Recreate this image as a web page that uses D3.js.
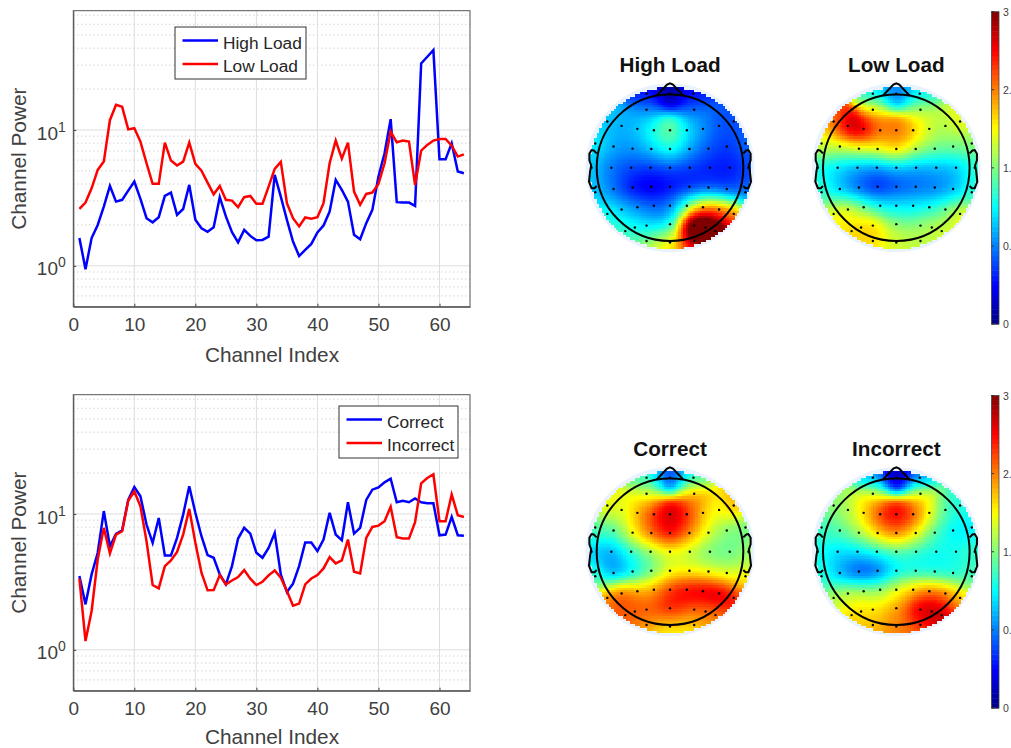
<!DOCTYPE html>
<html lang="en">
<head>
<meta charset="UTF-8" />
<title>Channel power and scalp maps</title>
<script src="https://d3js.org/d3.v7.min.js"></script>
<style>
  html, body { margin: 0; padding: 0; background: white; overflow: hidden; }
  svg { display: block; font-family: "Liberation Sans", Arial, sans-serif; }
  .axis text { font-size: 19px; fill: #404040; }
  .axis path, .axis line { stroke: #404040; }
  .axis-label { font-size: 20.8px; fill: #404040; text-anchor: middle; }
  .legend-text { font-size: 17.3px; fill: #262626; }
  .topo-title { font-size: 20.7px; font-weight: bold; fill: #111; text-anchor: middle; }
  .bar-tick { font-size: 10.5px; fill: #404040; }
</style>
</head>
<body>
<svg id="chart" width="1011" height="748"></svg>
<script>
// line chart data, one value per channel (1..64)
const highLoad = [1.60,0.945,1.60,2.00,2.73,3.87,2.97,3.06,3.58,4.17,3.11,2.24,2.09,2.28,3.27,3.46,2.37,2.62,3.94,2.18,1.89,1.78,1.92,3.20,2.31,1.77,1.49,1.84,1.66,1.54,1.55,1.64,4.67,3.23,2.18,1.51,1.18,1.31,1.45,1.76,1.98,2.51,4.29,3.62,2.97,1.69,1.57,2.06,2.58,4.54,6.74,12.0,2.94,2.92,2.92,2.76,30.9,34.6,38.7,6.09,6.09,7.98,4.94,4.80];
const lowLoad = [2.62,2.92,3.72,5.08,5.85,11.8,15.3,14.8,10.1,10.3,8.21,5.69,4.01,4.01,8.07,5.95,5.47,5.85,8.07,5.62,5.02,4.10,3.36,3.87,3.06,3.02,2.70,3.20,3.27,2.86,2.86,3.83,5.17,5.82,2.89,2.24,1.95,2.27,2.22,2.28,2.89,5.69,8.35,6.15,8.07,3.52,2.81,3.38,3.46,4.01,5.69,9.72,8.11,8.35,8.21,3.94,7.05,7.76,8.35,8.59,8.59,7.67,6.37,6.62];
const correct = [3.49,2.16,3.59,5.18,10.5,5.79,7.13,7.59,12.7,15.8,13.5,8.35,6.13,9.35,4.95,4.95,6.67,9.89,16.0,10.2,6.86,4.98,4.76,3.59,3.03,4.13,6.59,7.90,7.17,5.18,4.76,5.63,7.25,3.59,2.66,3.07,4.13,6.16,6.16,5.32,6.48,10.2,7.05,6.41,12.2,7.17,7.90,12.7,15.1,15.7,17.1,18.2,12.2,12.5,12.2,13.0,12.2,12.0,12.0,6.97,7.05,9.51,6.97,6.90];
const incorrect = [3.34,1.16,1.93,4.62,7.90,5.12,7.05,7.46,12.5,14.7,11.4,6.30,3.00,2.83,4.13,4.55,5.26,7.05,10.9,6.13,3.69,2.74,2.75,3.55,3.03,3.24,3.43,3.86,3.34,3.00,3.17,3.53,3.84,3.39,2.71,2.11,2.19,3.03,3.35,3.55,3.97,4.81,4.32,4.55,6.48,3.75,3.65,6.67,8.03,8.21,8.84,11.3,6.74,6.59,6.59,8.69,16.8,18.4,19.6,8.84,8.84,13.9,9.78,9.51];

const xTicks = [0,10,20,30,40,50,60];
const yMajor = [1,10];
const yMinor = [0.5,0.6,0.7,0.8,0.9,2,3,4,5,6,7,8,9,20,30,40,50,60,70];

// electrode locations in head radii, row by row from the nose down
const elecX = [-.32,0,.32, -.32,.33,
  -.855,-.66,-.445,-.22,0,.23,.45,.67,.87,
  -1.02,-.77,-.51,-.255,0,.265,.525,.775,1.03,
  -1.07,-.8,-.53,-.265,0,.27,.545,.815,1.07,
  -1.02,-.77,-.51,-.255,0,.265,.525,.775,1.03,
  -.855,-.66,-.445,-.22,0,.23,.45,.67,.87,
  -.61,-.48,-.32,0,.33,.485,.62,
  -.32,0,.33];
const elecY = [1.01,1.01,1.01, .79,.79,
  .63,.57,.53,.51,.51,.51,.53,.57,.63,
  .33,.29,.26,.255,.255,.255,.26,.29,.33,
  0,0,0,0,0,0,0,0,0,
  -.335,-.29,-.27,-.26,-.26,-.26,-.27,-.29,-.335,
  -.63,-.57,-.54,-.52,-.52,-.52,-.54,-.57,-.63,
  -.865,-.815,-.79,-.77,-.79,-.815,-.865,
  -1,-1.02,-1];

// values at the electrodes, same order
const highLoadTopo = [.35,.05,.35, .85,.75,
  1.0,.85,.95,1.25,1.6,1.1,.8,.6,.6,
  1.15,.85,.8,.95,1.3,.85,.6,.5,.7,
  1.0,.7,.55,.5,.55,.5,.42,.4,.6,
  1.0,.7,.35,.2,.35,.4,.55,.5,.7,
  1.3,.95,.8,.65,.7,1.4,2.2,2.4,2.3,
  1.45,1.1,.95,1.1,3.9,3.9,3.2,
  1.8,2.0,2.4];
const lowLoadTopo = [1.0,.7,1.0, 2.0,1.75,
  2.1,3.0,2.95,2.2,2.4,2.15,1.7,1.6,1.9,
  1.8,1.65,1.7,1.8,2.1,1.6,1.45,1.45,1.55,
  1.2,1.0,.8,.7,.85,.8,.85,.9,1.3,
  1.35,.9,.6,.35,.55,.65,.7,.85,1.3,
  1.85,1.95,1.4,1.15,1.1,1.1,1.15,1.4,2.0,
  1.95,2.05,2.15,1.6,1.55,1.7,1.8,
  1.9,1.75,1.7];
const correctTopo = [1.2,.5,1.1, 1.85,2.3,
  1.9,1.7,2.1,2.55,2.9,2.6,2.0,1.75,2.2,
  1.4,1.3,1.9,2.35,2.8,2.25,1.75,1.45,1.45,
  1.0,.8,1.2,1.5,1.75,1.6,1.4,1.4,1.6,
  1.4,.65,1.0,1.35,1.8,1.85,1.8,1.7,1.9,
  2.2,2.6,2.1,2.2,2.6,2.75,2.85,2.95,2.5,
  2.35,2.4,2.45,2.6,2.35,2.3,2.2,
  2.0,1.85,1.85];
const incorrectTopo = [.7,.05,.6, 2.0,2.05,
  1.5,1.65,1.95,2.55,2.8,2.5,1.85,1.3,1.2,
  1.3,1.35,1.6,2.0,2.35,1.85,1.3,1.05,1.1,
  1.2,1.0,1.0,1.15,1.3,1.2,1.15,1.2,1.3,
  1.3,.85,.45,.5,1.05,1.1,1.1,1.15,1.35,
  1.65,1.75,1.65,1.6,1.9,2.15,2.35,2.35,2.0,
  2.0,2.0,1.95,2.2,2.85,2.95,2.8,
  2.1,2.25,2.25];

const barTicks = [0,0.75,1.5,2.25,3];
const barTickLabels = ["0","0.","1.","2.","3"];

const svg = d3.select("#chart");

function logTicks(sel) {
  sel.selectAll(".tick text").each(function(d) {
    const t = d3.select(this).attr("y", 3).text(null);
    t.append("tspan").text("10");
    t.append("tspan").attr("dy", -8).style("font-size", "14px").text(Math.round(Math.log10(d)));
  });
}

function linePanel(top, blue, red, names, legendX, legendY, labelY) {
  const left = 73.3, right = 470, h = 296;
  const x = d3.scaleLinear([0, 65], [left, right]);
  const y = d3.scaleLog([0.5, 75.5], [top + h, top]);
  const g = svg.append("g");

  // grid first
  g.selectAll(".minor").data(yMinor).join("line")
    .attr("x1", left).attr("x2", right)
    .attr("y1", d => y(d)).attr("y2", d => y(d))
    .attr("stroke", "#bdbdbd").attr("stroke-dasharray", "1 3");
  g.selectAll(".major-y").data(yMajor).join("line")
    .attr("x1", left).attr("x2", right)
    .attr("y1", d => y(d)).attr("y2", d => y(d))
    .attr("stroke", "#dedede");
  g.selectAll(".major-x").data(xTicks.slice(1)).join("line")
    .attr("x1", d => x(d)).attr("x2", d => x(d))
    .attr("y1", top).attr("y2", top + h)
    .attr("stroke", "#dedede");

  const line = d3.line().x((d, i) => x(i + 1)).y(d => y(d));
  [[blue, "#0000ff"], [red, "#ff0000"]].forEach(([vals, col]) => {
    g.append("path").datum(vals).attr("d", line)
      .attr("fill", "none").attr("stroke", col).attr("stroke-width", 2.5);
  });

  g.append("g").attr("class", "axis")
    .attr("transform", `translate(0,${top + h})`)
    .call(d3.axisBottom(x).tickValues(xTicks).tickSize(-3).tickPadding(11).tickSizeOuter(0));
  g.append("g").attr("class", "axis")
    .attr("transform", `translate(${left},0)`)
    .call(d3.axisLeft(y).tickValues(yMajor).tickSize(-3).tickPadding(7.5).tickSizeOuter(0))
    .call(logTicks);
  g.append("rect").attr("x", left).attr("y", top).attr("width", right - left).attr("height", h)
    .attr("fill", "none").attr("stroke", "#555");

  g.append("text").attr("class", "axis-label").attr("x", 272).attr("y", labelY).text("Channel Index");
  g.append("text").attr("class", "axis-label")
    .attr("transform", `translate(26,${top + h / 2}) rotate(-90)`).text("Channel Power");

  // legend
  const lw = names[0] === "Correct" ? 119 : 131;
  const leg = g.append("g").attr("transform", `translate(${legendX},${legendY})`);
  leg.append("rect").attr("width", lw).attr("height", 52).attr("fill", "white").attr("stroke", "#333");
  names.forEach((n, i) => {
    leg.append("line").attr("x1", 7.5).attr("x2", 43).attr("y1", 13.5 + i * 23.5).attr("y2", 13.5 + i * 23.5)
      .attr("stroke", i ? "#ff0000" : "#0000ff").attr("stroke-width", 2.5);
    leg.append("text").attr("class", "legend-text").attr("x", 48).attr("y", 21.5 + i * 23.5).text(n);
  });
}

linePanel(10.7, highLoad, lowLoad, ["High Load", "Low Load"], 175, 27, 361.7);
linePanel(394.7, correct, incorrect, ["Correct", "Incorrect"], 339, 406, 743.5);

// jet colour map over the 0..3 range of the colour bars
const jet = d3.scaleLinear()
  .domain([0, .375, 1.125, 1.875, 2.625, 3])
  .range(["#000080", "#0000ff", "#00ffff", "#ffff00", "#ff0000", "#800000"])
  .clamp(true);

const gridN = 67, discR = 1.098, headPx = 73.3, kernel = 0.15;
const gridSteps = d3.range(gridN).map(i => -discR + (i + 0.5) * 2 * discR / gridN);
const gridCells = d3.cross(gridSteps, gridSteps).filter(([a, b]) => a * a + b * b <= discR * discR);
const earOutline = [[1,.195],[1.04,.235],[1.07,.24],[1.1,.19],[1.1,.1],[1.075,.03],[1.09,-.05],[1.105,-.19],[1.07,-.28],[1.03,-.28],[1,-.25]];
const noseOutline = [[-.18,.985],[-.04,1.135],[0,1.15],[.04,1.135],[.18,.985]];

function topoPanel(cx, cy, name, vals) {
  const px = d3.scaleLinear([-1, 1], [cx - headPx, cx + headPx]);
  const py = d3.scaleLinear([-1, 1], [cy + headPx, cy - headPx]);
  const g = svg.append("g");

  g.append("circle").attr("cx", cx).attr("cy", cy).attr("r", 84.5).attr("fill", "#e9f2fd");

  // kernel weighted mean of the electrode values
  const field = ([a, b]) => {
    const ws = elecX.map((x, i) => Math.exp(-((a - x) ** 2 + (b - elecY[i]) ** 2) / (2 * kernel * kernel)));
    return d3.sum(ws, (w, i) => w * vals[i]) / d3.sum(ws);
  };
  const size = 2 * discR * headPx / gridN;

  g.append("g").style("filter", "blur(0.5px)").attr("shape-rendering", "crispEdges")
    .selectAll("rect").data(gridCells).join("rect")
    .attr("x", d => px(d[0]) - size / 2).attr("y", d => py(d[1]) - size / 2)
    .attr("width", size + 1).attr("height", size + 1)
    .attr("fill", d => jet(field(d)));

  const outline = d3.line().x(d => px(d[0])).y(d => py(d[1]));
  const stroke = s => s.attr("fill", "none").attr("stroke", "#000").attr("stroke-width", 2);
  g.append("circle").attr("cx", cx).attr("cy", cy).attr("r", headPx).call(stroke);
  g.append("path").attr("d", outline(noseOutline)).call(stroke);
  g.append("path").attr("d", outline(earOutline)).call(stroke);
  g.append("path").attr("d", outline(earOutline.map(([x, y]) => [-x, y]))).call(stroke);

  g.selectAll(".dot").data(elecX).join("circle")
    .attr("cx", d => px(d)).attr("cy", (d, i) => py(elecY[i])).attr("r", 1.2).attr("fill", "#000");

  g.append("text").attr("class", "topo-title").attr("x", cx).attr("y", cy - 95.5).text(name);
}

topoPanel(670, 167.7, "High Load", highLoadTopo);
topoPanel(896.3, 167.7, "Low Load", lowLoadTopo);
topoPanel(670, 551.7, "Correct", correctTopo);
topoPanel(896.3, 551.7, "Incorrect", incorrectTopo);

function colorBar(top, bottom) {
  const y = d3.scaleLinear([0, 3], [bottom, top]);
  const g = svg.append("g");
  const levels = d3.range(64).map(i => i * 3 / 64);
  g.selectAll("rect").data(levels).join("rect")
    .attr("x", 991.5).attr("width", 7.5)
    .attr("y", d => y(d + 3 / 64)).attr("height", (bottom - top) / 64 + 0.5)
    .attr("fill", d => jet(d + 1.5 / 64));
  g.append("rect").attr("x", 991.5).attr("width", 7.5).attr("y", top).attr("height", bottom - top)
    .attr("fill", "none").attr("stroke", "#444").attr("stroke-width", 0.8);
  g.selectAll(".t").data(barTicks).join("line")
    .attr("x1", 991.5).attr("x2", 994).attr("y1", d => y(d)).attr("y2", d => y(d))
    .attr("stroke", "#333");
  g.selectAll("text").data(barTicks).join("text").attr("class", "bar-tick")
    .attr("x", 1003).attr("y", d => y(d) + 4)
    .text((d, i) => barTickLabels[i]);
}
colorBar(11.7, 324);
colorBar(395.5, 708);
</script>
</body>
</html>
